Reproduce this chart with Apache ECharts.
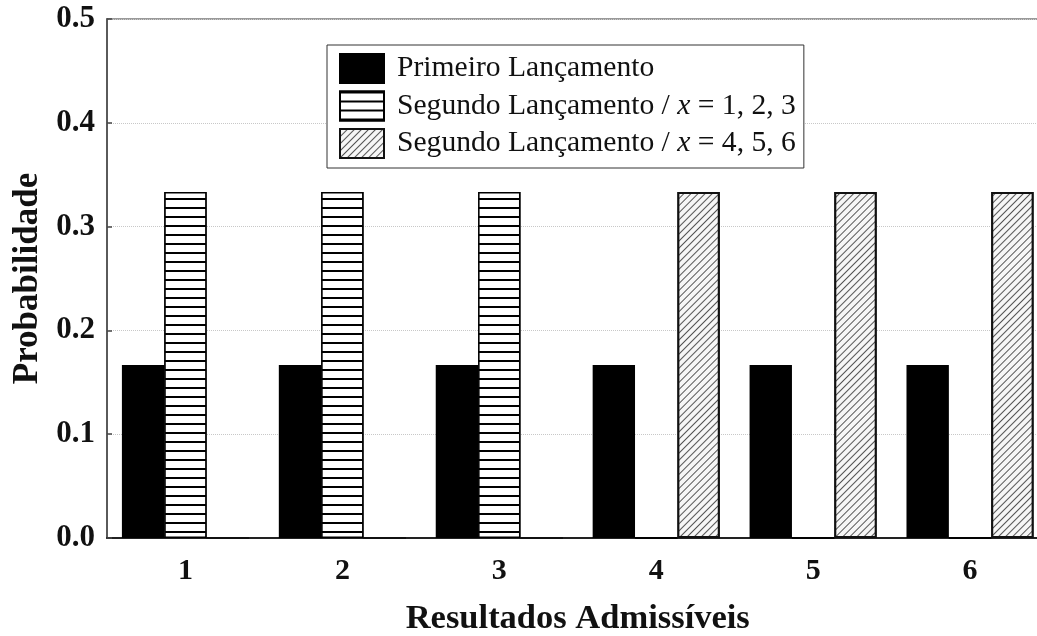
<!DOCTYPE html>
<html>
<head>
<meta charset="utf-8">
<script src="https://cdn.jsdelivr.net/npm/echarts@6/dist/echarts.min.js"></script>
<style>
  html, body { margin: 0; padding: 0; background: #fff; }
  #chart { width: 1037px; height: 636px; }
</style>
</head>
<body>
<div id="chart"></div>
<script>
// Outcomes of a die and the probability of each one, per throw
const categories = ['1', '2', '3', '4', '5', '6'];
const primeiroLancamento = [0.1667, 0.1667, 0.1667, 0.1667, 0.1667, 0.1667];
const segundoBaixo = [0.3333, 0.3333, 0.3333, 0, 0, 0];
const segundoAlto = [0, 0, 0, 0.3333, 0.3333, 0.3333];
const seriesNames = [
  'Primeiro Lançamento',
  'Segundo Lançamento / x = 1, 2, 3',
  'Segundo Lançamento / x = 4, 5, 6'
];
const yTicks = [0, 0.1, 0.2, 0.3, 0.4, 0.5];

const serif = "'Liberation Serif', 'Times New Roman', serif";

const chart = echarts.init(document.getElementById('chart'), null, { renderer: 'canvas' });

const option = {
  backgroundColor: '#fff',
  animation: false,
  grid: {
    left: 107,
    top: 19,
    bottom: 98,
    right: -11.5,
    outerBoundsMode: 'none',
    containLabel: false,
    show: true,
    borderColor: '#9a9a9a',
    borderWidth: 2
  },
  legend: {
    orient: 'vertical',
    left: 327,
    top: 45,
    padding: [8, 8, 9, 12],
    itemWidth: 44,
    itemHeight: 29,
    itemGap: 6.5,
    icon: 'rect',
    borderColor: '#333',
    borderWidth: 1,
    backgroundColor: '#fff',
    selectedMode: false,
    data: seriesNames,
    formatter: function (name) {
      return name.replace(' x ', ' {i|x} ');
    },
    textStyle: {
      fontFamily: serif,
      fontSize: 29.6,
      lineHeight: 29,
      color: '#111',
      padding: [0, 0, 0, 8],
      rich: {
        i: { fontFamily: serif, fontSize: 29.6, lineHeight: 29, fontStyle: 'italic', color: '#111' }
      }
    }
  },
  xAxis: {
    type: 'category',
    data: categories,
    name: 'Resultados Admissíveis',
    nameLocation: 'middle',
    nameGap: 64,
    nameTextStyle: { fontFamily: serif, fontSize: 34.5, fontWeight: 'bold', color: '#111' },
    axisLine: { show: true, lineStyle: { color: '#222', width: 2 } },
    axisTick: { show: false },
    axisLabel: {
      margin: 18,
      fontFamily: serif,
      fontSize: 30,
      fontWeight: 'bold',
      color: '#111'
    },
    splitLine: { show: false }
  },
  yAxis: {
    type: 'value',
    min: yTicks[0],
    max: yTicks[yTicks.length - 1],
    interval: 0.1,
    name: 'Probabilidade',
    nameLocation: 'middle',
    nameGap: 57,
    nameTextStyle: { fontFamily: serif, fontSize: 35, fontWeight: 'bold', color: '#111' },
    axisLine: { show: true, lineStyle: { color: '#444', width: 1.5 } },
    axisTick: { show: true, inside: true, length: 5, lineStyle: { color: '#444', width: 1.5 } },
    axisLabel: {
      margin: 12,
      fontFamily: serif,
      fontSize: 31,
      fontWeight: 'bold',
      color: '#111',
      formatter: function (v) { return v.toFixed(1); }
    },
    splitLine: { show: true, lineStyle: { color: '#c8c8c8', type: 'dotted', width: 1 } }
  },
  series: [
    {
      name: seriesNames[0],
      type: 'bar',
      data: primeiroLancamento,
      barGap: '0%',
      barCategoryGap: '19%',
      itemStyle: { color: '#000', borderColor: '#000', borderWidth: 1.5 }
    },
    {
      name: seriesNames[1],
      type: 'bar',
      data: segundoBaixo,
      itemStyle: {
        color: '#fff',
        borderColor: '#000',
        borderWidth: 1.5,
        decal: {
          symbol: 'rect',
          symbolSize: 1,
          color: '#000',
          backgroundColor: '#fff',
          dashArrayX: [1, 0],
          dashArrayY: [1.5, 6.2],
          rotation: 0
        }
      }
    },
    {
      name: seriesNames[2],
      type: 'bar',
      data: segundoAlto,
      itemStyle: {
        color: '#f6f6f6',
        borderColor: '#111',
        borderWidth: 2,
        decal: {
          symbol: 'rect',
          symbolSize: 1,
          color: '#555',
          backgroundColor: '#f6f6f6',
          dashArrayX: [1, 0],
          dashArrayY: [1, 3.3],
          rotation: -Math.PI / 4
        }
      }
    }
  ]
};

chart.setOption(option);
</script>
</body>
</html>
